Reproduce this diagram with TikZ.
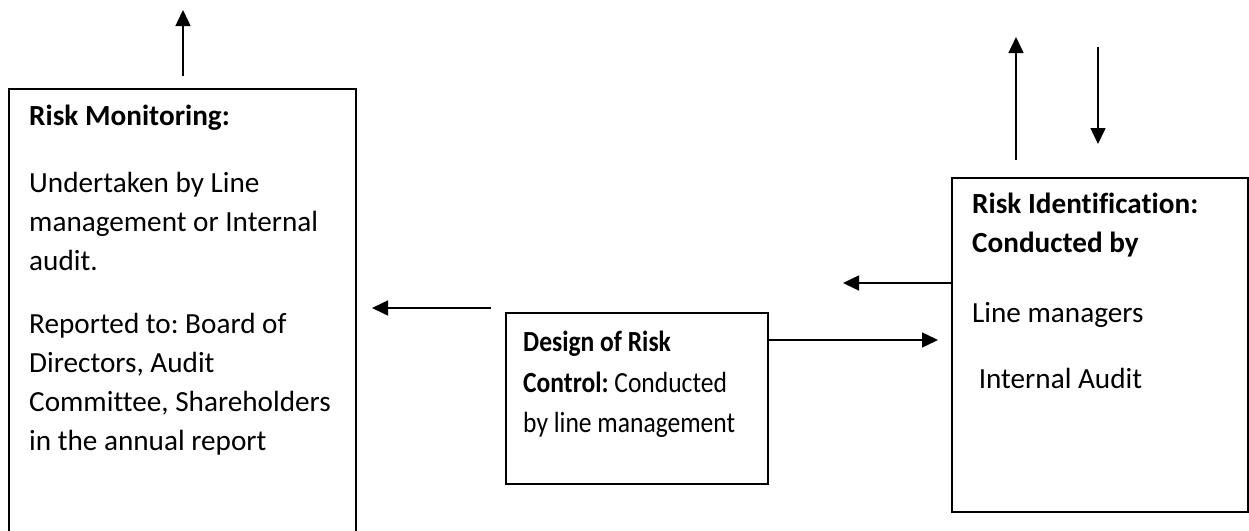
\documentclass[tikz,border=0pt]{standalone}
\usepackage{fontspec}
\setmainfont{Carlito}[Ligatures={NoCommon}]
\newfontfamily\narrowfont{Carlito}[Ligatures={NoCommon},FakeStretch=0.875]
\frenchspacing
\usetikzlibrary{arrows.meta}
\begin{document}
\begin{tikzpicture}[x=1pt,y=-1pt,
  box/.style={draw,line width=1.6pt,inner sep=0pt},
  txt/.style={anchor=base west,inner sep=0pt,font=\fontsize{29.2}{39}\selectfont},
  bld/.style={txt,font=\fontsize{29.2}{39}\selectfont\bfseries},
  ntxt/.style={anchor=base west,inner sep=0pt,font=\fontsize{29.2}{39}\narrowfont},
  arr/.style={line width=1.5pt,-{Triangle[length=16pt,width=15pt]}}]
\useasboundingbox (0,0) rectangle (1249,530);
% boxes
\node[box,minimum width=347pt,minimum height=452pt,anchor=north west] (mon) at (8,88) {};
\node[box,minimum width=262pt,minimum height=171pt,anchor=north west] (des) at (505,312) {};
\node[box,minimum width=296pt,minimum height=334pt,anchor=north west] (ide) at (951,177) {};
% left box text
\node[bld] (m1) at (29,125) {Risk Monitoring:};
\node[txt] (m2) at (29,192) {Undertaken by Line};
\node[txt] (m3) at (29,231) {management or Internal};
\node[txt] (m4) at (29,270) {audit.};
\node[txt] (m5) at (29,333) {Reported to: Board of};
\node[txt] (m6) at (29,372) {Directors, Audit};
\node[txt] (m7) at (29,411) {Committee, Shareholders};
\node[txt] (m8) at (29,450) {in the annual report};
% middle box text
\node[ntxt] (d1) at (523,351) {\bfseries Design of Risk};
\node[ntxt] (d2) at (523,392) {\textbf{Control:} Conducted};
\node[ntxt] (d3) at (523,432) {by line management};
% right box text
\node[bld] (i1) at (972,213) {Risk Identification:};
\node[bld] (i2) at (972,252) {Conducted by};
\node[txt] (i3) at (972,322) {Line managers};
\node[txt] (i4) at (972,388) {\ Internal Audit};
% arrow end points
\coordinate (a1s) at (183,76);  \coordinate (a1e) at (183,10);
\coordinate (a2s) at (491,308); \coordinate (a2e) at (372,308);
\coordinate (a3s) at (769,340); \coordinate (a3e) at (938,340);
\coordinate (a4s) at (ide.west |- 0,283); \coordinate (a4e) at (843,283);
\coordinate (a5s) at (1016,160); \coordinate (a5e) at (1016,37);
\coordinate (a6s) at (1098,47);  \coordinate (a6e) at (1098,144);
\draw[arr] (a1s) -- (a1e);
\draw[arr] (a2s) -- (a2e);
\draw[arr] (a3s) -- (a3e);
\draw[arr] (a4s) -- (a4e);
\draw[arr] (a5s) -- (a5e);
\draw[arr] (a6s) -- (a6e);
\end{tikzpicture}
\end{document}
